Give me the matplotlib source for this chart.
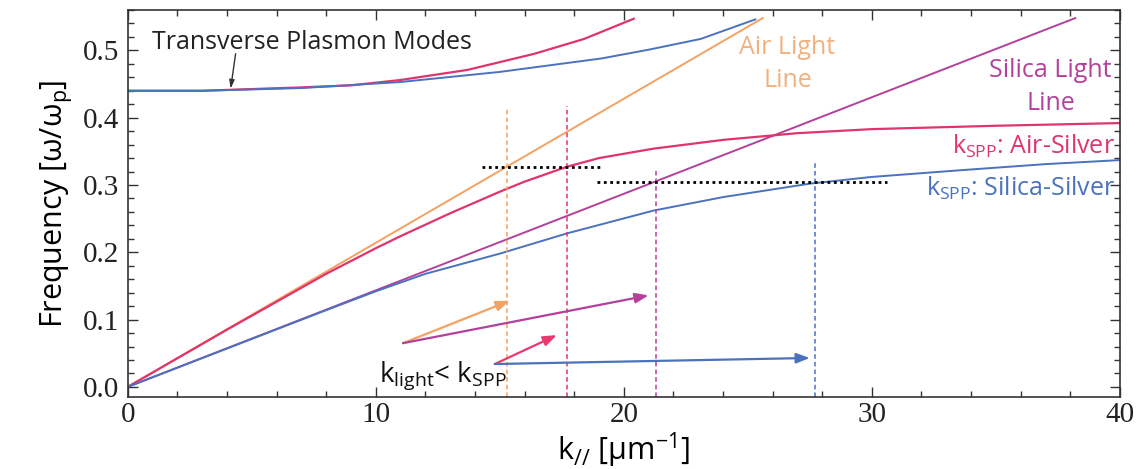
import matplotlib.pyplot as plt
import numpy as np

plt.rcParams['font.family'] = ['Open Sans', 'DejaVu Sans']
plt.rcParams['mathtext.default'] = 'regular'

# dispersion curves, k in 1/um, frequency in units of w_p
k_airline = [0.0, 25.6]
w_airline = [0.0, 0.548]
k_silline = [0.0, 38.2]
w_silline = [0.0, 0.548]

k_spp_air = [0, 4, 8, 10, 11, 12, 13, 14, 15, 16, 17.7, 19, 21.2, 24, 27, 30, 35, 40]
w_spp_air = [0, 0.085, 0.168, 0.206, 0.224, 0.241, 0.258, 0.274, 0.290, 0.305,
             0.327, 0.340, 0.354, 0.367, 0.377, 0.383, 0.388, 0.392]
k_spp_sil = [0, 4, 8, 10, 12, 15, 17.7, 21.2, 24, 27.5, 30, 33.6, 37, 40]
w_spp_sil = [0, 0.057, 0.114, 0.142, 0.168, 0.198, 0.228, 0.262, 0.282, 0.302,
             0.312, 0.322, 0.331, 0.337]

# upper (transverse plasmon) branches
k_up_sil = [0, 3, 7, 11, 15, 19.1, 21, 23.1, 25.3]
w_up_sil = [0.440, 0.440, 0.444, 0.453, 0.468, 0.488, 0.501, 0.517, 0.546]
k_up_air = [0, 3, 7, 9, 11, 13.7, 16.4, 18.4, 20.4]
w_up_air = [0.440, 0.440, 0.445, 0.448, 0.456, 0.471, 0.495, 0.517, 0.547]

# matching points: light line / spp wavevector at fixed frequency
w_match = [0.327, 0.305]
k_match_air = [15.3, 17.7]
k_match_sil = [21.3, 27.7]
w_vtop = [0.413, 0.417, 0.323, 0.335]

c_air = '#f4a261'
c_spa = '#e0346c'
c_sil = '#b4409c'
c_sps = '#4a72be'
ylo = -0.015

fig = plt.figure(figsize=(11.37, 4.69), dpi=100)
ax = fig.add_axes([0.1123, 0.1535, 0.8727, 0.8252])

ax.plot(k_airline, w_airline, color=c_air, lw=1.4)
ax.plot(k_silline, w_silline, color=c_sil, lw=1.4)
ax.plot(k_spp_air, w_spp_air, color=c_spa, lw=1.6)
ax.plot(k_spp_sil, w_spp_sil, color=c_sps, lw=1.4)
ax.plot(k_up_air, w_up_air, color=c_spa, lw=1.6)
ax.plot(k_up_sil, w_up_sil, color=c_sps, lw=1.4)

# vertical markers
vk = [k_match_air[0], k_match_air[1], k_match_sil[0], k_match_sil[1]]
vc = [c_air, c_spa, c_sil, c_sps]
for k, top, c in zip(vk, w_vtop, vc):
    ax.plot([k, k], [ylo, top], color=c, lw=1.1, ls=(0, (3, 2)))

# horizontal dotted lines
ax.plot([14.3, 19.1], [w_match[0]] * 2, color='k', lw=2, ls=(0, (1, 1.3)))
ax.plot([18.9, 30.6], [w_match[1]] * 2, color='k', lw=2, ls=(0, (1, 1.3)))

# arrows from the k_light < k_spp label
def arrow(x0, y0, x1, y1, c):
    ax.annotate('', xy=(x1, y1), xytext=(x0, y0),
                arrowprops=dict(arrowstyle='-|>,head_length=0.8,head_width=0.3',
                                color=c, lw=1.6, shrinkA=0, shrinkB=0))

arrow(11.1, 0.065, 15.4, 0.128, c_air)
arrow(11.1, 0.065, 21.0, 0.136, c_sil)
arrow(14.8, 0.034, 17.3, 0.077, '#e83870')
arrow(14.8, 0.034, 27.5, 0.043, c_sps)

ax.text(12.7, 0.017, r'k$_{light}$< k$_{SPP}$', fontsize=20, ha='center',
        va='center', color='#111111')

ax.text(1.0, 0.512, 'Transverse Plasmon Modes', fontsize=18, color='#222222',
        va='center')
ax.annotate('', xy=(4.15, 0.443), xytext=(4.35, 0.495),
            arrowprops=dict(arrowstyle='-|>,head_length=0.5,head_width=0.15',
                            color='#333333', lw=1, shrinkA=0, shrinkB=0))

ax.text(26.6, 0.48, 'Air Light\nLine', fontsize=18, color='#f2b07c',
        ha='center', va='center', linespacing=1.4)
ax.text(37.2, 0.446, 'Silica Light\nLine', fontsize=18, color=c_sil,
        ha='center', va='center', linespacing=1.4)
ax.text(39.8, 0.357, r'k$_{SPP}$: Air-Silver', fontsize=18, color=c_spa,
        ha='right', va='center')
ax.text(39.8, 0.295, r'k$_{SPP}$: Silica-Silver', fontsize=18, color=c_sps,
        ha='right', va='center')

ax.set_xlim(0, 40)
ax.set_ylim(ylo, 0.559)
ax.set_xticks([0, 10, 20, 30, 40])
ax.set_xticks(np.arange(0, 41, 2), minor=True)
ax.set_yticks([0, 0.1, 0.2, 0.3, 0.4, 0.5])
ax.set_yticks(np.arange(0, 0.56, 0.02), minor=True)
ax.yaxis.set_major_formatter(plt.FormatStrFormatter('%.1f'))
ax.tick_params(which='both', direction='in', top=True, right=True,
               width=1, colors='#333333', labelcolor='#222222')
ax.tick_params(which='major', length=7)
ax.tick_params(which='minor', length=4)
ax.tick_params(axis='y', pad=6)
for lab in ax.get_xticklabels() + ax.get_yticklabels():
    lab.set_family('Liberation Serif')
    lab.set_fontsize(21)
for s in ax.spines.values():
    s.set_color('#333333')
    s.set_linewidth(1.2)

ax.set_xlabel(r'k$_{//}$ [μm$^{-1}$]', fontsize=22, labelpad=2)
ax.set_ylabel(r'Frequency [ω/ω$_p$]', fontsize=22, labelpad=6)

fig.savefig('out.png', dpi=100)
